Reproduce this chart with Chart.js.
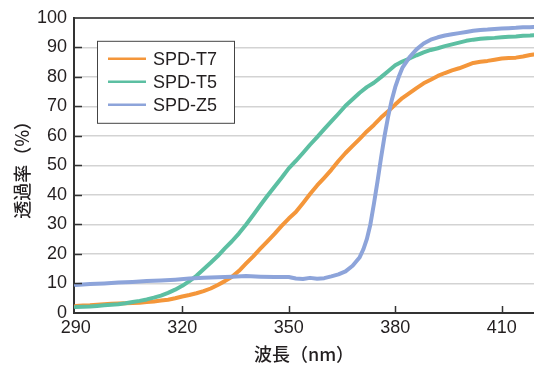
<!DOCTYPE html>
<html>
<head>
<meta charset="utf-8">
<script src="https://cdn.jsdelivr.net/npm/chart.js@4.4.1/dist/chart.umd.min.js"></script>
<style>
  html, body { margin: 0; padding: 0; background: #ffffff; }
  #wrap { width: 534px; height: 367px; position: relative; }
</style>
</head>
<body>
<div id="wrap"><canvas id="c"></canvas></div>
<script>
// Wavelength grid (nm) shared by SPD-T7 and SPD-T5
const wavelengths = [290,292,294,296,298,300,302,304,306,308,310,312,314,316,318,320,322,324,326,328,
  330,332,334,336,338,340,342,344,346,348,350,352,354,356,358,360,362,364,366,368,
  370,372,374,376,378,380,382,384,386,388,390,392,394,396,398,400,402,404,406,408,
  410,412,414,416,418,419];

// Transmittance (%)
const spdT7 = [2.4,2.5,2.6,2.8,3.0,3.1,3.2,3.3,3.4,3.5,3.7,3.9,4.2,4.5,5.0,5.6,6.1,6.7,7.4,8.3,
  9.5,10.8,12.3,14.3,16.8,19.2,21.8,24.3,26.8,29.5,32.0,34.2,37.2,40.3,43.2,45.8,48.5,51.5,54.2,56.6,
  59.0,61.5,63.7,66.2,68.3,70.6,72.8,74.5,76.2,77.8,79.0,80.3,81.3,82.2,82.9,83.8,84.7,85.1,85.4,85.8,
  86.2,86.4,86.5,86.9,87.4,87.6];

const spdT5 = [2.0,2.1,2.2,2.4,2.6,2.8,3.0,3.3,3.7,4.1,4.6,5.2,5.9,6.8,7.9,9.2,10.8,12.6,14.8,17.0,
  19.3,21.9,24.3,27.0,30.0,33.2,36.5,39.7,42.8,45.8,49.0,51.5,54.2,57.0,59.6,62.3,64.9,67.5,70.2,72.4,
  74.6,76.5,78.0,79.9,81.9,83.9,85.2,86.2,87.3,88.3,89.1,89.7,90.4,91.0,91.6,92.2,92.6,92.9,93.1,93.2,
  93.4,93.6,93.7,93.9,94.0,94.1];

// SPD-Z5 has a sharp edge near 375 nm, so it is sampled more finely there
const wavelengthsZ5 = [290,294,298,302,306,310,314,318,322,326,330,334,338,342,346,350,352,354,356,358,
  360,362,364,366,368,370,371,372,373,374,375,376,377,378,379,380,381,382,384,386,
  388,390,392,394,396,398,400,402,404,406,408,410,412,414,416,418,419];

const spdZ5 = [9.5,9.8,10.0,10.3,10.5,10.8,11.0,11.3,11.7,11.9,12.1,12.3,12.5,12.3,12.2,12.2,11.7,11.5,11.9,11.6,
  11.8,12.4,13.1,14.1,16.0,18.9,21.5,25.0,30.0,37.0,44.5,52.5,60.0,66.5,72.0,76.5,80.0,83.0,86.6,89.3,
  91.3,92.6,93.4,94.0,94.4,94.8,95.2,95.6,95.9,96.0,96.2,96.4,96.5,96.6,96.8,96.8,96.9];

const seriesNames = ['SPD-T7', 'SPD-T5', 'SPD-Z5'];
const xTicks = [290, 320, 350, 380, 410];
const yTicks = [0, 10, 20, 30, 40, 50, 60, 70, 80, 90, 100];

const COLORS = ['#F4963A', '#5CBFA2', '#8DA4DA'];
const INK = '#231f20';
const LATIN = '"Liberation Sans", Arial, sans-serif';
const CJK = '"Noto Sans CJK JP", sans-serif';

const pts = (xs, ys) => xs.map((x, i) => ({ x, y: ys[i] }));

// Framed legend inside the plot area plus inward tick marks
const framePlugin = {
  id: 'frame',
  afterDraw(chart) {
    const { ctx, chartArea: a, scales } = chart;
    ctx.save();
    ctx.strokeStyle = '#333';
    ctx.lineWidth = 1.5;
    yTicks.forEach(v => {
      if (v === 0 || v === 100) return;
      const y = Math.round(scales.y.getPixelForValue(v)) + 0.5;
      ctx.beginPath(); ctx.moveTo(a.left, y); ctx.lineTo(a.left + 8, y); ctx.stroke();
    });
    xTicks.forEach(v => {
      if (v === 290) return;
      const x = Math.round(scales.x.getPixelForValue(v)) + 0.5;
      ctx.beginPath(); ctx.moveTo(x, a.bottom); ctx.lineTo(x, a.bottom - 7); ctx.stroke();
    });

    // legend box
    const bx = a.left + 23, by = a.top + 23, bw = 137, bh = 82;
    ctx.fillStyle = '#fff';
    ctx.fillRect(bx, by, bw, bh);
    ctx.strokeStyle = '#444';
    ctx.lineWidth = 1;
    ctx.strokeRect(bx + 0.5, by + 0.5, bw, bh);
    ctx.font = '18px ' + LATIN;
    ctx.textBaseline = 'middle';
    ctx.textAlign = 'left';
    seriesNames.forEach((name, i) => {
      const cy = by + 18 + i * 23;
      ctx.strokeStyle = COLORS[i];
      ctx.lineWidth = 2.5;
      ctx.beginPath(); ctx.moveTo(bx + 11, cy); ctx.lineTo(bx + 49, cy); ctx.stroke();
      ctx.fillStyle = INK;
      ctx.fillText(name, bx + 56, cy + 1);
    });
    ctx.restore();
  }
};

new Chart(document.getElementById('c'), {
  type: 'line',
  data: {
    datasets: [
      { label: seriesNames[0], data: pts(wavelengths, spdT7), borderColor: COLORS[0], order: 2 },
      { label: seriesNames[1], data: pts(wavelengths, spdT5), borderColor: COLORS[1], order: 1 },
      { label: seriesNames[2], data: pts(wavelengthsZ5, spdZ5), borderColor: COLORS[2], order: 0 }
    ]
  },
  options: {
    responsive: true,
    maintainAspectRatio: false,
    devicePixelRatio: 1,
    animation: false,
    events: [],
    layout: { padding: { top: 14, right: 0, bottom: 0, left: 0 } },
    elements: {
      line: { borderWidth: 4, tension: 0, borderCapStyle: 'round', borderJoinStyle: 'round', fill: false },
      point: { radius: 0 }
    },
    plugins: { legend: { display: false }, tooltip: { enabled: false } },
    scales: {
      x: {
        type: 'linear',
        min: 289.5,
        max: 419.1,
        afterBuildTicks: s => { s.ticks = xTicks.map(v => ({ value: v })); },
        afterFit: s => { s.height = 54; },
        grid: { display: false, drawTicks: false },
        border: { display: true, color: '#333', width: 2 },
        ticks: { color: INK, font: { family: LATIN, size: 18 }, padding: 4, maxRotation: 0 },
        title: { display: true, text: '波長（nm）', color: INK, font: { family: CJK, size: 18, weight: 500 }, padding: { top: 0, bottom: 2 } }
      },
      y: {
        min: 0,
        max: 100,
        afterBuildTicks: s => { s.ticks = yTicks.map(v => ({ value: v })); },
        afterFit: s => { s.width = 74; },
        grid: {
          drawTicks: false,
          color: c => c.tick.value === 100 ? '#555' : (c.tick.value === 0 ? 'rgba(0,0,0,0)' : '#d3d3d3'),
          lineWidth: c => c.tick.value === 100 ? 2 : 1.5
        },
        border: { display: true, color: '#333', width: 2 },
        ticks: { color: INK, font: { family: LATIN, size: 18 }, padding: 7 },
        title: { display: true, text: '透過率（%）', color: INK, font: { family: CJK, size: 18, weight: 500 }, padding: { top: 11, bottom: 0 } }
      }
    }
  },
  plugins: [framePlugin]
});
</script>
</body>
</html>
